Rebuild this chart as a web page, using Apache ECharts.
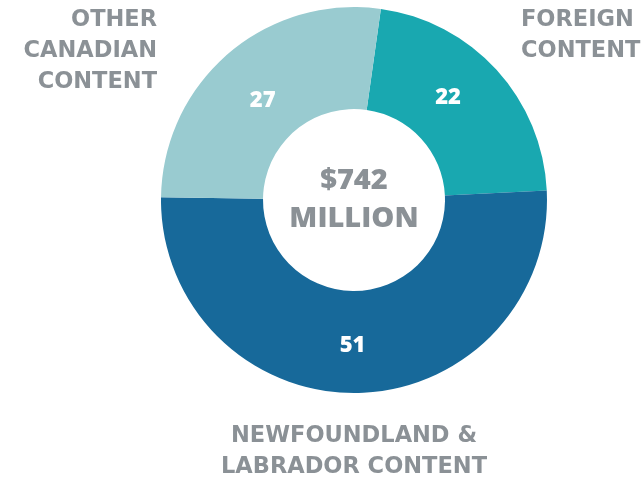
<!DOCTYPE html>
<html>
<head>
<meta charset="utf-8">
<script src="https://cdn.jsdelivr.net/npm/echarts@6/dist/echarts.min.js"></script>
<style>
  html, body { margin: 0; padding: 0; background: #fff; }
  #chart { width: 643px; height: 482px; }
</style>
</head>
<body>
<div id="chart"></div>
<script>
var categories = ['FOREIGN\nCONTENT', 'NEWFOUNDLAND &\nLABRADOR CONTENT', 'OTHER\nCANADIAN\nCONTENT'];
var values = [22, 51, 27];
var colors = ['#19a8b0', '#17699a', '#99cbd0'];
var centerText = '$742\nMILLION';

var grey = '#8b9196';
var font = '"Open Sans"';
var catFont = 'bold 22.5px "DejaVu Sans"';
// small nudges so the numbers sit where the original has them
var labelNudge = [[-13, -4], [-4, 1], [3, 11]];

var pieData = [];
for (var i = 0; i < values.length; i++) {
    pieData.push({
        name: categories[i],
        value: values[i],
        itemStyle: {color: colors[i]},
        label: {offset: labelNudge[i]}
    });
}

var option = {
    animation: false,
    graphic: [
        {
            type: 'text', x: 157, y: 5,
            style: {text: categories[2], fill: grey, font: catFont,
                    align: 'right', lineHeight: 31}
        },
        {
            type: 'text', x: 521, y: 5,
            style: {text: categories[0], fill: grey, font: catFont,
                    align: 'left', lineHeight: 31}
        },
        {
            type: 'text', x: 354, y: 421,
            style: {text: categories[1], fill: grey, font: catFont,
                    align: 'center', lineHeight: 31}
        }
    ],
    series: [
        {
            type: 'pie',
            center: [354, 200],
            radius: [91, 193],
            startAngle: 82,
            clockwise: true,
            silent: true,
            itemStyle: {borderWidth: 0},
            label: {
                position: 'inside',
                formatter: '{c}',
                color: '#fff',
                fontFamily: font,
                fontWeight: 800,
                fontSize: 22
            },
            labelLine: {show: false},
            data: pieData
        },
        {
            type: 'pie',
            center: [354, 200],
            radius: [0, 0],
            silent: true,
            label: {
                position: 'center',
                formatter: centerText,
                color: grey,
                fontFamily: font,
                fontWeight: 800,
                fontSize: 29,
                lineHeight: 38
            },
            data: [{value: 1, itemStyle: {color: 'transparent'}}]
        }
    ]
};

var myChart = echarts.init(document.getElementById('chart'));
myChart.setOption(option);
</script>
</body>
</html>
